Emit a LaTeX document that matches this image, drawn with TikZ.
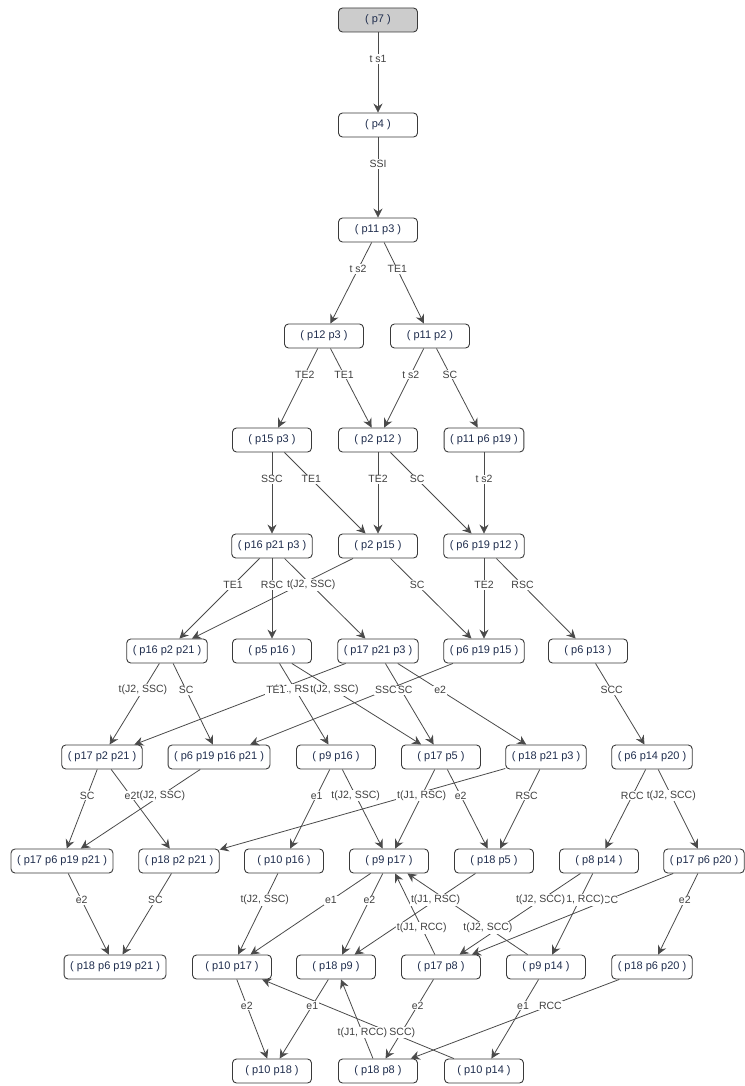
\documentclass[tikz,border=0pt]{standalone}
\usepackage{fontspec}
\setmainfont{Liberation Sans}
\usetikzlibrary{arrows.meta}
\definecolor{nodetext}{HTML}{1F2D4D}
\definecolor{bordc}{HTML}{3A3A3A}
\definecolor{edgec}{HTML}{4A4A4A}
\definecolor{lblc}{HTML}{404040}
\definecolor{startfill}{HTML}{CCCCCC}
\begin{document}
\begin{tikzpicture}[x=1pt,y=-1pt,
  st/.style={draw=bordc, line width=0.9pt, rounded corners=4pt, minimum width=79pt,
    minimum height=24pt, inner xsep=6pt, font=\fontsize{11}{13}\selectfont, text=nodetext},
  arr/.style={draw=edgec, line width=0.8pt, -{Stealth[length=9pt,width=9pt,inset=3pt]}},
  lbl/.style={fill=white, inner sep=1pt, font=\fontsize{10.5}{12}\selectfont, text=lblc, pos=0.33}]
\useasboundingbox (0,0) rectangle (744,1086);
% row 0-2
\node[st, fill=startfill] (p7) at (378,20) {( p7 )};
\node[st] (p4) at (378,125) {( p4 )};
\node[st] (p11p3) at (378,230) {( p11 p3 )};
% row 3
\node[st] (p12p3) at (324,336) {( p12 p3 )};
\node[st] (p11p2) at (430,336) {( p11 p2 )};
% row 4
\node[st] (p15p3) at (272,440) {( p15 p3 )};
\node[st] (p2p12) at (378,440) {( p2 p12 )};
\node[st] (p11p6p19) at (484,440) {( p11 p6 p19 )};
% row 5
\node[st] (p16p21p3) at (272,546) {( p16 p21 p3 )};
\node[st] (p2p15) at (378,546) {( p2 p15 )};
\node[st] (p6p19p12) at (484,546) {( p6 p19 p12 )};
% row 6
\node[st] (p16p2p21) at (167,651) {( p16 p2 p21 )};
\node[st] (p5p16) at (272,651) {( p5 p16 )};
\node[st] (p17p21p3) at (378,651) {( p17 p21 p3 )};
\node[st] (p6p19p15) at (484,651) {( p6 p19 p15 )};
\node[st] (p6p13) at (588,651) {( p6 p13 )};
% row 7
\node[st] (p17p2p21) at (102,757) {( p17 p2 p21 )};
\node[st] (p6p19p16p21) at (219,757) {( p6 p19 p16 p21 )};
\node[st] (p9p16) at (336,757) {( p9 p16 )};
\node[st] (p17p5) at (441,757) {( p17 p5 )};
\node[st] (p18p21p3) at (546,757) {( p18 p21 p3 )};
\node[st] (p6p14p20) at (652,757) {( p6 p14 p20 )};
% row 8
\node[st] (p17p6p19p21) at (62,861) {( p17 p6 p19 p21 )};
\node[st] (p18p2p21) at (179,861) {( p18 p2 p21 )};
\node[st] (p10p16) at (284,861) {( p10 p16 )};
\node[st] (p9p17) at (389,861) {( p9 p17 )};
\node[st] (p18p5) at (494,861) {( p18 p5 )};
\node[st] (p8p14) at (599,861) {( p8 p14 )};
\node[st] (p17p6p20) at (704,861) {( p17 p6 p20 )};
% row 9
\node[st] (p18p6p19p21) at (115,967) {( p18 p6 p19 p21 )};
\node[st] (p10p17) at (232,967) {( p10 p17 )};
\node[st] (p18p9) at (336,967) {( p18 p9 )};
\node[st] (p17p8) at (441,967) {( p17 p8 )};
\node[st] (p9p14) at (546,967) {( p9 p14 )};
\node[st] (p18p6p20) at (652,967) {( p18 p6 p20 )};
% row 10
\node[st] (p10p18) at (272,1071) {( p10 p18 )};
\node[st] (p18p8) at (378,1071) {( p18 p8 )};
\node[st] (p10p14) at (484,1071) {( p10 p14 )};

\def\edgelist{p7/p4/{t s1},
p4/p11p3/{SSI},
p11p3/p12p3/{t s2},
p11p3/p11p2/{TE1},
p12p3/p15p3/{TE2},
p12p3/p2p12/{TE1},
p11p2/p2p12/{t s2},
p11p2/p11p6p19/{SC},
p15p3/p16p21p3/{SSC},
p15p3/p2p15/{TE1},
p2p12/p2p15/{TE2},
p2p12/p6p19p12/{SC},
p11p6p19/p6p19p12/{t s2},
p2p15/p16p2p21/{SSC},
p16p21p3/p16p2p21/{TE1},
p16p21p3/p5p16/{RSC},
p16p21p3/p17p21p3/{t(J2, SSC)},
p2p15/p6p19p15/{SC},
p6p19p12/p6p19p15/{TE2},
p6p19p12/p6p13/{RSC},
p16p2p21/p17p2p21/{t(J2, SSC)},
p16p2p21/p6p19p16p21/{SC},
p5p16/p9p16/{t(J1, RSC)},
p17p21p3/p17p2p21/{TE1},
p5p16/p17p5/{t(J2, SSC)},
p17p21p3/p17p5/{RSC},
p6p19p15/p6p19p16p21/{SSC},
p17p21p3/p18p21p3/{e2},
p6p13/p6p14p20/{SCC},
p17p2p21/p17p6p19p21/{SC},
p17p2p21/p18p2p21/{e2},
p6p19p16p21/p17p6p19p21/{t(J2, SSC)},
p9p16/p10p16/{e1},
p9p16/p9p17/{t(J2, SSC)},
p18p21p3/p18p2p21/{TE1},
p17p5/p9p17/{t(J1, RSC)},
p17p5/p18p5/{e2},
p18p21p3/p18p5/{RSC},
p6p14p20/p8p14/{RCC},
p6p14p20/p17p6p20/{t(J2, SCC)},
p17p6p19p21/p18p6p19p21/{e2},
p18p2p21/p18p6p19p21/{SC},
p10p16/p10p17/{t(J2, SSC)},
p9p17/p10p17/{e1},
p9p17/p18p9/{e2},
p18p5/p18p9/{t(J1, RSC)},
p17p6p20/p17p8/{RCC},
p8p14/p9p14/{t(J1, RCC)},
p8p14/p17p8/{t(J2, SCC)},
p17p6p20/p18p6p20/{e2},
p17p8/p9p17/{t(J1, RCC)},
p9p14/p9p17/{t(J2, SCC)},
p10p17/p10p18/{e2},
p18p9/p10p18/{e1},
p17p8/p18p8/{e2},
p9p14/p10p14/{e1},
p18p6p20/p18p8/{RCC},
p10p14/p10p17/{t(J2, SCC)},
p18p8/p18p9/{t(J1, RCC)}}

\foreach \a/\b/\lab in \edgelist {\draw[arr] (\a) -- (\b);}
\foreach \a/\b/\lab in \edgelist {\path (\a) -- node[lbl] {\lab} (\b);}
\end{tikzpicture}
\end{document}
